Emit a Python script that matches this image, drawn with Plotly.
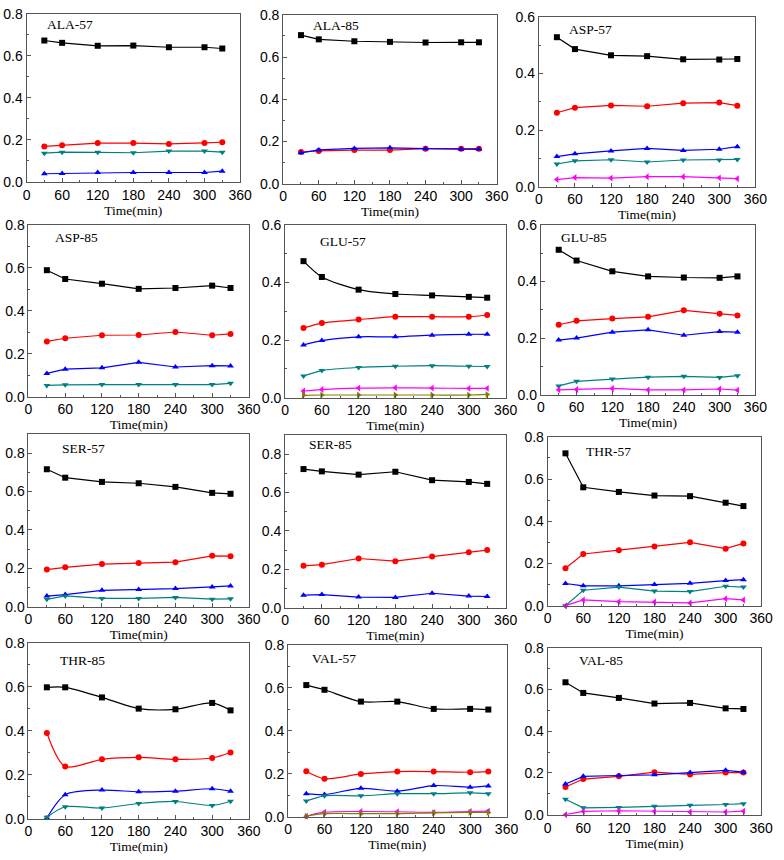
import plotly.graph_objects as go

# sampling times (min)
time_min = [30, 60, 120, 180, 240, 300, 330]

ala_57 = {
    "black": [0.673, 0.662, 0.648, 0.649, 0.641, 0.641, 0.635],
    "red": [0.168, 0.174, 0.184, 0.184, 0.180, 0.185, 0.188],
    "teal": [0.136, 0.141, 0.140, 0.138, 0.146, 0.146, 0.141],
    "blue": [0.038, 0.039, 0.044, 0.044, 0.044, 0.044, 0.050],
}
ala_85 = {
    "black": [0.704, 0.684, 0.675, 0.672, 0.669, 0.670, 0.670],
    "red": [0.150, 0.155, 0.159, 0.159, 0.166, 0.166, 0.166],
    "blue": [0.146, 0.160, 0.167, 0.170, 0.166, 0.163, 0.163],
}
asp_57 = {
    "black": [0.528, 0.486, 0.464, 0.461, 0.450, 0.449, 0.451],
    "red": [0.261, 0.279, 0.287, 0.284, 0.295, 0.297, 0.286],
    "blue": [0.106, 0.116, 0.126, 0.135, 0.128, 0.132, 0.141],
    "teal": [0.080, 0.091, 0.095, 0.087, 0.094, 0.094, 0.096],
    "magenta": [0.025, 0.032, 0.030, 0.035, 0.035, 0.031, 0.028],
}
asp_85 = {
    "black": [0.589, 0.548, 0.526, 0.502, 0.506, 0.517, 0.506],
    "red": [0.257, 0.272, 0.286, 0.287, 0.301, 0.286, 0.292],
    "blue": [0.108, 0.128, 0.134, 0.160, 0.138, 0.144, 0.143],
    "teal": [0.052, 0.055, 0.056, 0.056, 0.056, 0.056, 0.062],
}
glu_57 = {
    "black": [0.474, 0.419, 0.375, 0.360, 0.355, 0.350, 0.347],
    "red": [0.242, 0.259, 0.271, 0.281, 0.281, 0.281, 0.287],
    "blue": [0.183, 0.198, 0.211, 0.211, 0.217, 0.220, 0.220],
    "teal": [0.075, 0.094, 0.105, 0.109, 0.111, 0.109, 0.108],
    "magenta": [0.023, 0.028, 0.033, 0.034, 0.033, 0.032, 0.032],
    "olive": [0.008, 0.009, 0.009, 0.009, 0.009, 0.009, 0.011],
}
glu_85 = {
    "black": [0.512, 0.474, 0.436, 0.418, 0.414, 0.413, 0.418],
    "red": [0.247, 0.261, 0.269, 0.275, 0.298, 0.286, 0.280],
    "blue": [0.193, 0.200, 0.221, 0.229, 0.210, 0.223, 0.221],
    "teal": [0.031, 0.047, 0.055, 0.062, 0.065, 0.061, 0.067],
    "magenta": [0.017, 0.018, 0.022, 0.017, 0.017, 0.020, 0.016],
}
ser_57 = {
    "black": [0.716, 0.672, 0.650, 0.643, 0.624, 0.593, 0.588],
    "red": [0.193, 0.205, 0.222, 0.227, 0.232, 0.265, 0.263],
    "blue": [0.055, 0.063, 0.085, 0.089, 0.094, 0.103, 0.108],
    "teal": [0.038, 0.056, 0.043, 0.043, 0.048, 0.039, 0.041],
}
ser_85 = {
    "black": [0.722, 0.710, 0.693, 0.708, 0.664, 0.655, 0.645],
    "red": [0.218, 0.224, 0.256, 0.242, 0.266, 0.288, 0.300],
    "blue": [0.065, 0.068, 0.055, 0.053, 0.075, 0.060, 0.058],
}
thr_57 = {
    "black": [0.722, 0.561, 0.539, 0.522, 0.519, 0.488, 0.472],
    "red": [0.177, 0.245, 0.263, 0.281, 0.300, 0.270, 0.295],
    "blue": [0.105, 0.094, 0.094, 0.100, 0.106, 0.119, 0.123],
    "teal": [0.000, 0.073, 0.088, 0.069, 0.067, 0.092, 0.088],
    "magenta": [0.000, 0.027, 0.019, 0.017, 0.013, 0.033, 0.027],
}
thr_85 = {
    "black": [0.598, 0.598, 0.552, 0.501, 0.498, 0.527, 0.493],
    "red": [0.390, 0.237, 0.270, 0.279, 0.270, 0.276, 0.301],
    "blue": [0.003, 0.109, 0.130, 0.122, 0.125, 0.136, 0.125],
    "teal": [0.006, 0.054, 0.048, 0.069, 0.078, 0.060, 0.079],
}
val_57 = {
    "black": [0.613, 0.591, 0.536, 0.536, 0.502, 0.502, 0.499],
    "red": [0.212, 0.177, 0.199, 0.210, 0.210, 0.207, 0.210],
    "blue": [0.107, 0.103, 0.132, 0.119, 0.145, 0.137, 0.143],
    "teal": [0.073, 0.097, 0.097, 0.107, 0.107, 0.111, 0.107],
    "magenta": [0.002, 0.021, 0.024, 0.023, 0.020, 0.024, 0.026],
    "olive": [0.002, 0.014, 0.014, 0.014, 0.018, 0.020, 0.020],
}
val_85 = {
    "black": [0.635, 0.584, 0.560, 0.533, 0.536, 0.510, 0.507],
    "red": [0.133, 0.171, 0.184, 0.204, 0.193, 0.202, 0.202],
    "blue": [0.147, 0.184, 0.188, 0.191, 0.202, 0.213, 0.204],
    "teal": [0.074, 0.033, 0.035, 0.041, 0.045, 0.049, 0.053],
    "magenta": [0.000, 0.016, 0.019, 0.016, 0.013, 0.013, 0.017],
}

x_ticks = [0, 60, 120, 180, 240, 300, 360]

styles = {
    "black": ("#000000", "square"),
    "red": ("#ff0000", "circle"),
    "blue": ("#0000ff", "triangle-up"),
    "teal": ("#008080", "triangle-down"),
    "magenta": ("#ff00ff", "triangle-left"),
    "olive": ("#808000", "triangle-right"),
}

# name, data, y max, smoothed, pixel box (left, right, top, bottom), label pos
panels = [
    ("ALA-57", ala_57, 0.8, False, (23, 241, 6, 177), (0.087, 0.935)),
    ("ALA-85", ala_85, 0.8, False, (285, 503, 7, 179), (0.128, 0.935)),
    ("ASP-57", asp_57, 0.6, False, (546, 767, 9, 182), (0.13, 0.925)),
    ("ASP-85", asp_85, 0.8, False, (25, 250, 221, 396), (0.11, 0.926)),
    ("GLU-57", glu_57, 0.6, True, (287, 512, 221, 397), (0.147, 0.903)),
    ("GLU-85", glu_85, 0.6, False, (548, 767, 221, 394), (0.087, 0.925)),
    ("SER-57", ser_57, 0.9, False, (25, 250, 434, 610), (0.142, 0.915)),
    ("SER-85", ser_85, 0.9, False, (287, 512, 435, 611), (0.10, 0.943)),
    ("THR-57", thr_57, 0.8, False, (555, 773, 437, 609), (0.17, 0.913)),
    ("THR-85", thr_85, 0.8, True, (25, 250, 647, 826), (0.133, 0.90)),
    ("VAL-57", val_57, 0.8, True, (290, 513, 649, 824), (0.10, 0.92)),
    ("VAL-85", val_85, 0.8, False, (555, 773, 652, 822), (0.138, 0.924)),
]

W, H = 784, 860
fig = go.Figure()
axis_color = "#555555"
tick_font = dict(family="Liberation Sans, Arial", size=14, color="#000000")
serif = "Liberation Serif, Times New Roman"

for i, (name, data, ymax, smooth, box, lab) in enumerate(panels):
    n = i + 1
    xa = "x" if n == 1 else f"x{n}"
    ya = "y" if n == 1 else f"y{n}"
    for key, vals in data.items():
        color, symbol = styles[key]
        fig.add_trace(go.Scatter(
            x=time_min, y=vals, xaxis=xa, yaxis=ya,
            mode="lines+markers",
            line=dict(color=color, width=1.2, shape="spline" if smooth else "linear",
                      smoothing=0.8),
            marker=dict(color=color, symbol=symbol, size=6),
            showlegend=False, cliponaxis=False,
        ))
    left, right, top, bottom = box
    common = dict(
        showline=True, linecolor=axis_color, linewidth=1, mirror=True,
        ticks="inside", ticklen=4, tickcolor=axis_color, tickwidth=1,
        showgrid=False, zeroline=False, tickfont=tick_font,
    )
    fig.layout[f"xaxis{n}"] = dict(
        domain=[left / W, right / W], anchor=ya, range=[0, 360],
        tickvals=x_ticks,
        minor=dict(dtick=30, tick0=0, ticks="inside", ticklen=2, tickcolor=axis_color),
        title=dict(text="Time(min)", standoff=0,
                   font=dict(family=serif, size=13.5, color="#000000")),
        **common,
    )
    fig.layout[f"yaxis{n}"] = dict(
        domain=[1 - bottom / H, 1 - top / H], anchor=xa, range=[0, ymax],
        dtick=0.2, tick0=0, tickformat=".1f",
        minor=dict(dtick=0.1, tick0=0, ticks="inside", ticklen=2, tickcolor=axis_color),
        **common,
    )
    fig.add_annotation(
        text=name, xref=f"{xa} domain", yref=f"{ya} domain",
        x=lab[0], y=lab[1], xanchor="left", yanchor="middle", showarrow=False,
        font=dict(family=serif, size=13.5, color="#000000"),
    )

fig.update_layout(
    width=W, height=H,
    margin=dict(l=0, r=0, t=0, b=0),
    paper_bgcolor="white", plot_bgcolor="white",
)

# drop the default page margin so the figure sits at the window origin
fig.write_html("out.html", config={"displayModeBar": False},
               post_script="document.body.style.margin='0px';")
